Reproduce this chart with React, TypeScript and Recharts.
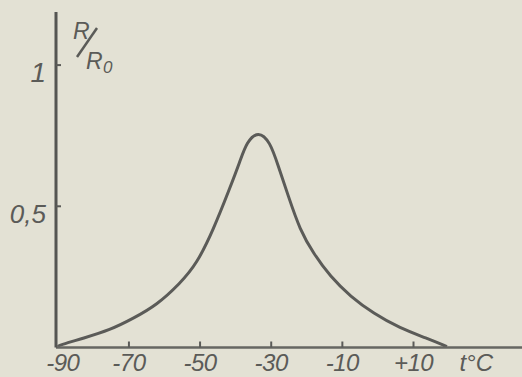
import React from 'react';
import { LineChart, Line, XAxis, YAxis, Label } from 'recharts';

// temperature, °C
const temps = [
  -90, -89.4, -82.8, -75.3, -68.8, -62.2, -55.6, -50.9, -46.3, -41.6, -38.8, -36.9, -33.6,
  -30.3, -28.1, -25.3, -21.9, -18.1, -13.4, -7.7, -1.3, 6.2, 13.7, 19.4,
];
// relative resistance R/R0
const ratios = [
  0.004, 0.009, 0.033, 0.062, 0.103, 0.15, 0.227, 0.297, 0.416, 0.565, 0.658, 0.728, 0.768,
  0.728, 0.646, 0.54, 0.415, 0.333, 0.251, 0.18, 0.121, 0.068, 0.033, 0.003,
];
const xTicks = [-90, -70, -50, -30, -10, 10];
const xTickLabels = ['-90', '-70', '-50', '-30', '-10', '+10'];
const yTicks = [0.5, 1];
const yTickLabels = ['0,5', '1'];

const data = temps.map((t, i) => ({ t, r: ratios[i] }));

const ink = '#5b5b58';
const hand = '"Liberation Sans", Arial, sans-serif';

const XTick = (props: any) => {
  const { x, y, payload } = props;
  const i = xTicks.indexOf(payload.value);
  return (
    <g>
      {payload.value !== -90 && (
        <line x1={x} y1={y - 6} x2={x} y2={y} stroke={ink} strokeWidth={2} />
      )}
      <text
        x={x + (payload.value === -90 ? 5 : 0)}
        y={y + 23}
        textAnchor="middle"
        fill={ink}
        fontFamily={hand}
        fontStyle="italic"
        fontSize={24}
        letterSpacing={-0.5}
      >
        {xTickLabels[i]}
      </text>
    </g>
  );
};

const YTick = (props: any) => {
  const { x, y, payload } = props;
  const i = yTicks.indexOf(payload.value);
  return (
    <g>
      <line x1={x} y1={y} x2={x + 5} y2={y} stroke={ink} strokeWidth={2} />
      <text
        x={x - 10}
        y={y + 17}
        textAnchor="end"
        fill={ink}
        fontFamily={hand}
        fontStyle="italic"
        fontSize={payload.value === 1 ? 28 : 26}
      >
        {yTickLabels[i]}
      </text>
    </g>
  );
};

const RatioLabel = (props: any) => {
  const { x, y, width } = props.viewBox;
  const ax = x + width;
  return (
    <g fill={ink} fontFamily={hand} fontStyle="italic">
      <text x={ax + 17} y={y + 27} fontSize={23}>R</text>
      <line x1={ax + 21} y1={y + 45} x2={ax + 41} y2={y + 16} stroke={ink} strokeWidth={2.5} />
      <text x={ax + 30} y={y + 57} fontSize={23}>R</text>
      <text x={ax + 47} y={y + 61} fontSize={17}>0</text>
    </g>
  );
};

const UnitLabel = (props: any) => {
  const { x, y, width } = props.viewBox;
  return (
    <text
      x={x + width - 29}
      y={y + 23}
      textAnchor="end"
      fill={ink}
      fontFamily={hand}
      fontStyle="italic"
      fontSize={24}
    >
      t°C
    </text>
  );
};

export default function App() {
  return (
    <div style={{ position: 'absolute', left: 0, top: 0, width: 522, height: 377, background: '#e3e1d4' }}>
      <LineChart width={522} height={377} data={data} margin={{ top: 12, right: 0, left: 0, bottom: 0 }}>
        <XAxis
          dataKey="t"
          type="number"
          domain={[-90.5, 40.5]}
          ticks={xTicks}
          height={29.5}
          tickSize={0}
          tickMargin={0}
          tickLine={false}
          tick={<XTick />}
          axisLine={{ stroke: '#666662', strokeWidth: 2.5 }}
          interval={0}
        >
          <Label content={<UnitLabel />} />
        </XAxis>
        <YAxis
          dataKey="r"
          type="number"
          domain={[0, 1.188]}
          ticks={yTicks}
          width={56}
          tickSize={0}
          tickMargin={0}
          tickLine={false}
          tick={<YTick />}
          axisLine={{ stroke: '#555552', strokeWidth: 3 }}
          interval={0}
        >
          <Label content={<RatioLabel />} />
        </YAxis>
        <Line
          type="basis"
          dataKey="r"
          stroke={ink}
          strokeWidth={3}
          dot={false}
          isAnimationActive={false}
        />
      </LineChart>
    </div>
  );
}
